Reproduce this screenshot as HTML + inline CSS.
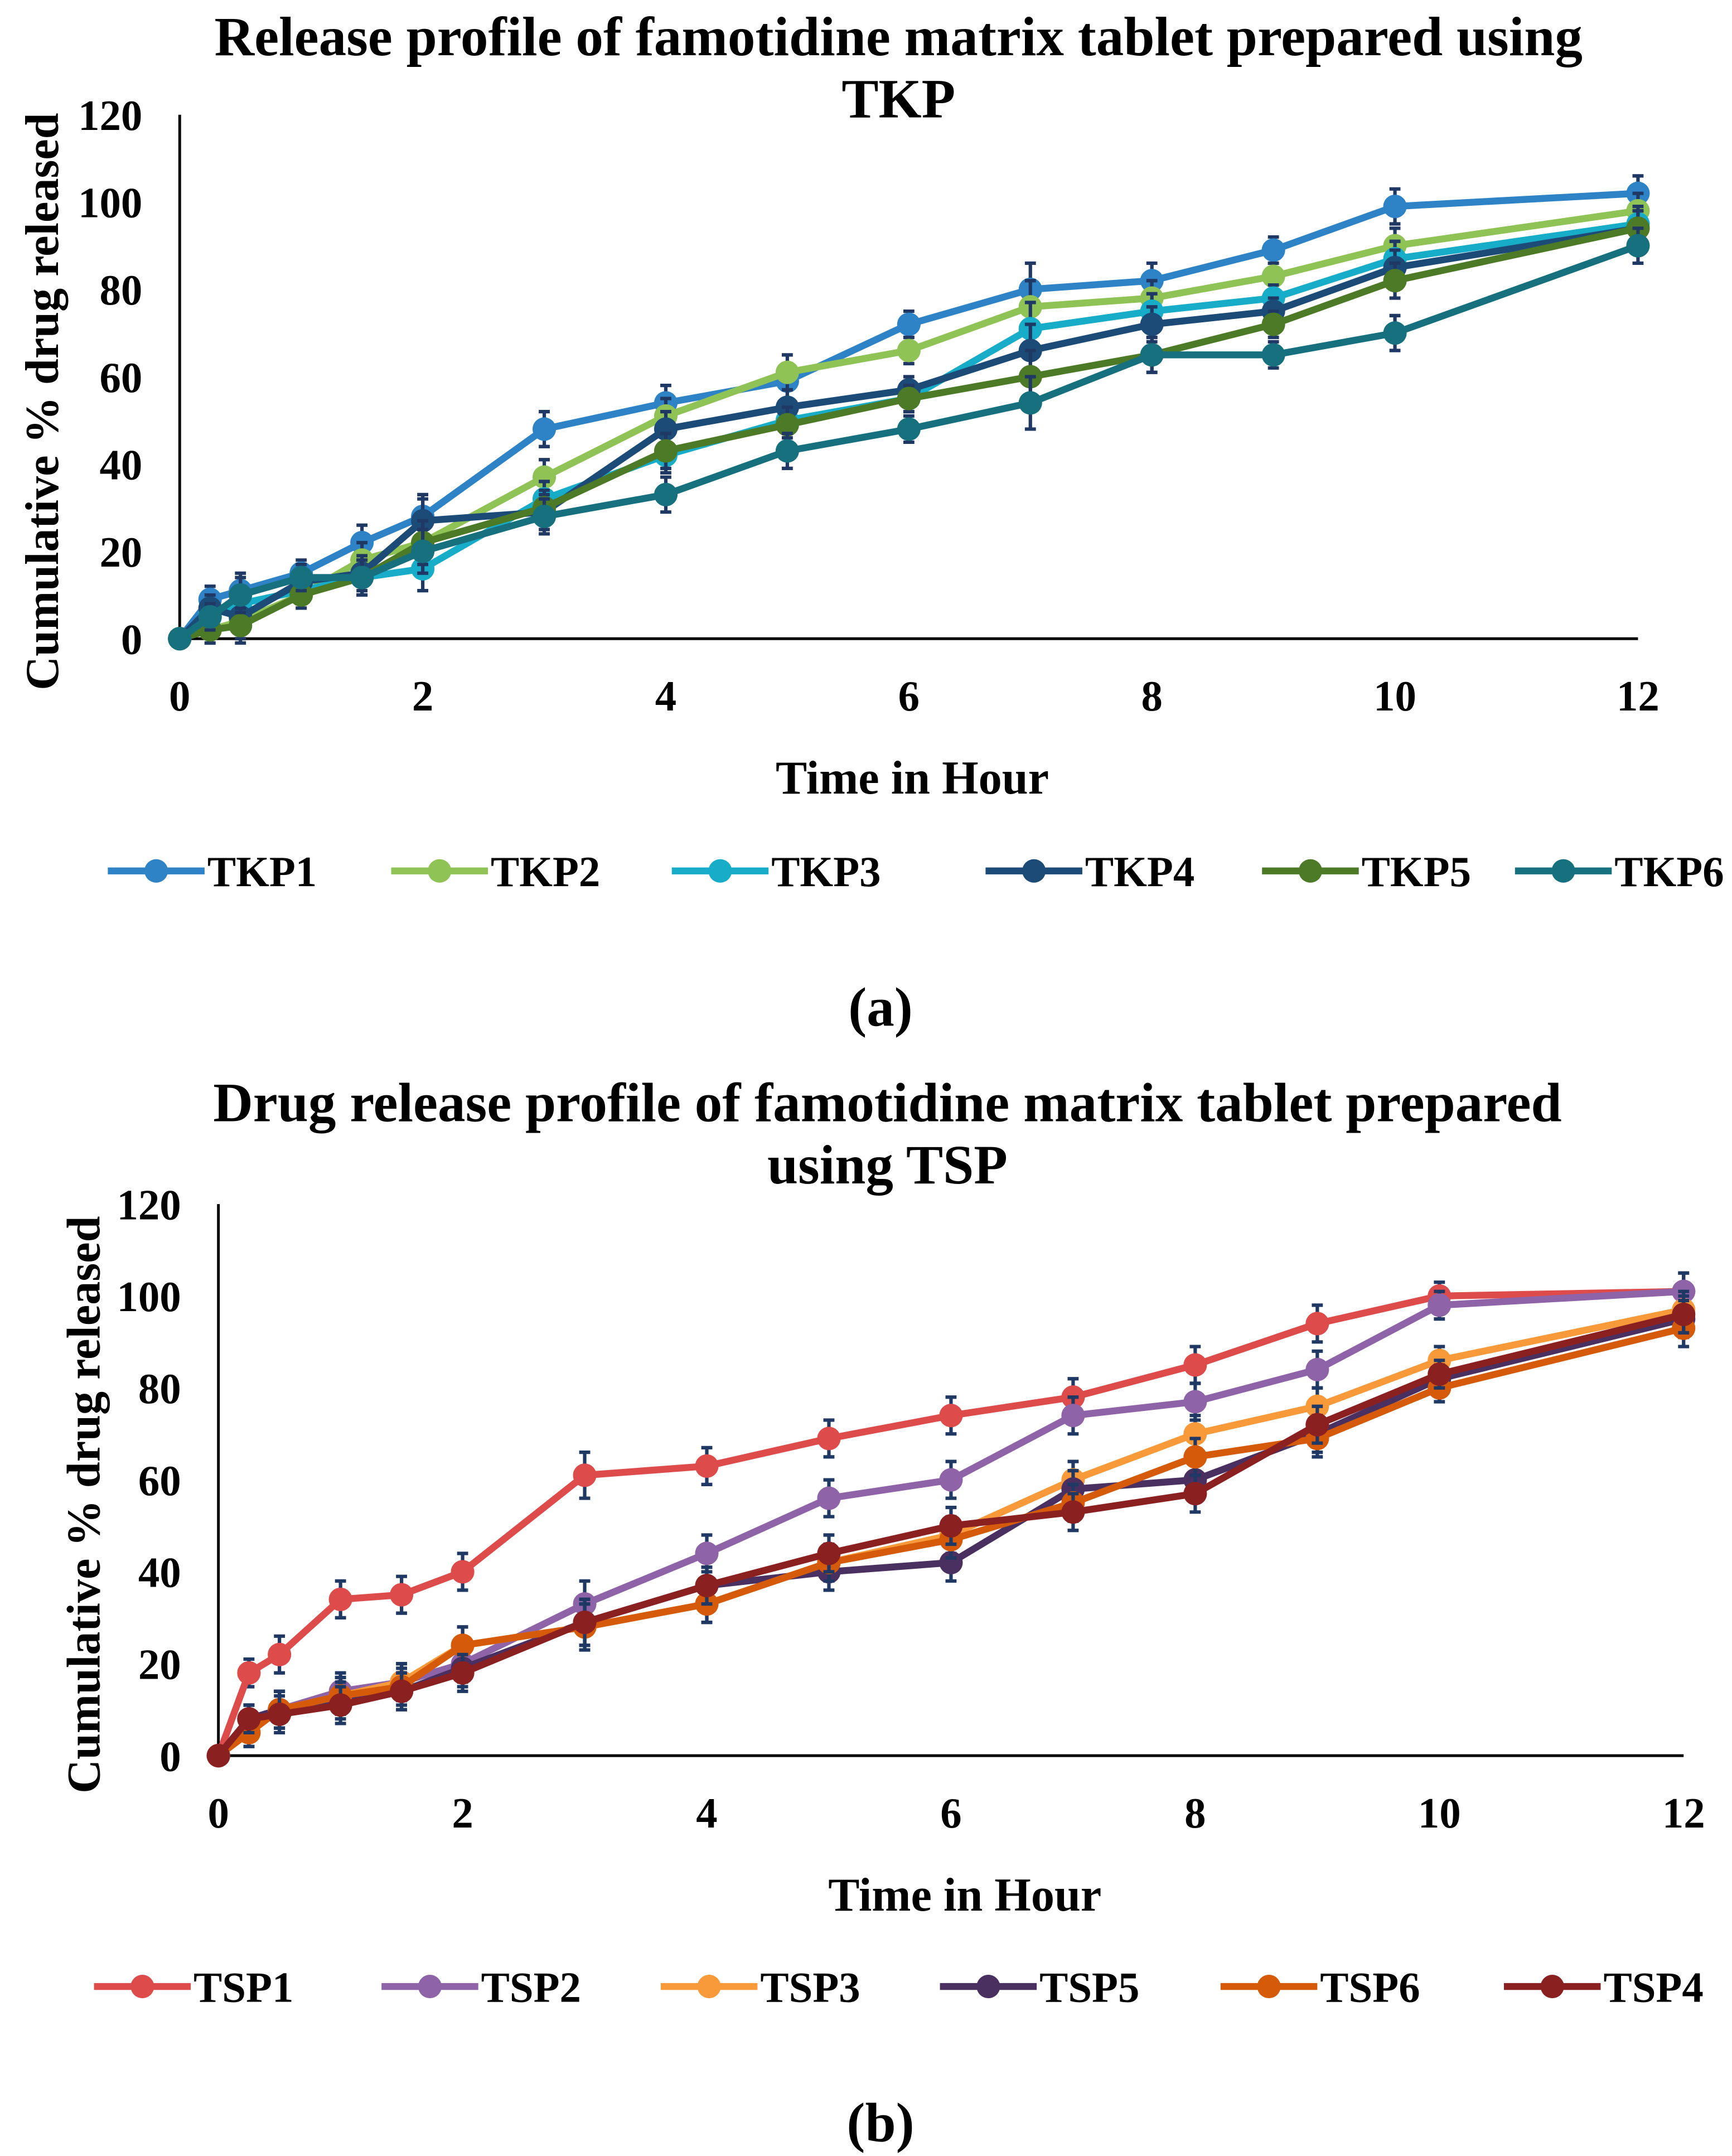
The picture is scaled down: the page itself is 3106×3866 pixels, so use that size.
<!DOCTYPE html>
<html><head><meta charset="utf-8"><style>
html,body{margin:0;padding:0;background:#fff}
svg{display:block}
text{font-family:"Liberation Serif",serif;font-weight:bold;fill:#000}
</style></head><body>
<svg id="root" width="3106" height="3866" viewBox="0 0 1253 1559.6" xmlns="http://www.w3.org/2000/svg">
<rect width="1253" height="1560" fill="#fff"/>
<g id="ga"></g>
<g id="gb"></g>
</svg>
<script>
const times = [0,0.25,0.5,1,1.5,2,3,4,5,6,7,8,9,10,12];
const xTicks = [0,2,4,6,8,10,12];
const yTicks = [0,20,40,60,80,100,120];
const tkpNames = ["TKP1","TKP2","TKP3","TKP4","TKP5","TKP6"];
const tkp1 = [0,9,11,15,22,28,48,54,59,72,80,82,89,99,102];
const tkp2 = [0,2,4,10,18,22,37,51,61,66,76,78,83,90,98];
const tkp3 = [0,6,8,11,14,16,32,42,50,55,71,75,78,87,95];
const tkp4 = [0,7,5,13,15,27,29,48,53,57,66,72,75,85,94];
const tkp5 = [0,2,3,10,14,22,30,43,49,55,60,65,72,82,94];
const tkp6 = [0,5,10,14,14,20,28,33,43,48,54,65,65,70,90];
const tkpErr = [0,3,4,3,4,5,4,4,4,3,6,4,3,4,4];
const tspNames = ["TSP1","TSP2","TSP3","TSP5","TSP6","TSP4"];
const tsp1 = [0,18,22,34,35,40,61,63,69,74,78,85,94,100,101];
const tsp2 = [0,8,10,14,16,20,33,44,56,60,74,77,84,98,101];
const tsp3 = [0,5,10,13,16,24,28,33,42,48,60,70,76,86,97];
const tsp5 = [0,8,10,12,14,19,29,37,40,42,58,60,70,82,95];
const tsp6 = [0,5,10,13,15,24,28,33,42,47,55,65,69,80,93];
const tsp4 = [0,8,9,11,14,18,29,37,44,50,53,57,72,83,96];
const tspErr = [0,3,4,4,4,4,5,4,4,4,4,4,4,3,4];

const NS="http://www.w3.org/2000/svg";
function mk(p,tag,attrs,txt){const e=document.createElementNS(NS,tag);for(const k in attrs)e.setAttribute(k,attrs[k]);if(txt!==undefined)e.textContent=txt;p.appendChild(e);return e;}

function chart(g,cfg){
  const xs=v=>cfg.x0+(cfg.x1-cfg.x0)*v/12;
  const ys=v=>cfg.y0-(cfg.y0-cfg.y1)*v/120;
  cfg.title.forEach((t,i)=>{const e=mk(g,'text',{x:cfg.tx,y:cfg.ty+i*45,'text-anchor':'middle','font-size':40},t);
    
    });
  const ax=mk(g,'path',{d:`M${cfg.x0},${cfg.y1} V${cfg.y0} H${cfg.x1}`,stroke:'#000','stroke-width':2,fill:'none'});
  
  
  yTicks.forEach(v=>{const e=mk(g,'text',{x:cfg.x0-27,y:ys(v)+11,'text-anchor':'end','font-size':31},v);
    
    });
  xTicks.forEach(v=>{const e=mk(g,'text',{x:xs(v),y:cfg.y0+52,'text-anchor':'middle','font-size':31},v);
    
    });
  const yt=mk(g,'text',{transform:`translate(${cfg.ytx},${(cfg.y0+cfg.y1)/2+18}) rotate(-90)`,'text-anchor':'middle','font-size':34},'Cumulative % drug released');
  
  
  const xt=mk(g,'text',{x:cfg.xtx,y:cfg.y0+112,'text-anchor':'middle','font-size':34},'Time in Hour');
  
  
  cfg.series.forEach((s,si)=>{
    const sg=mk(g,'g',{});
    
    
    times.forEach((t,i)=>{const x=xs(t),e=cfg.err[i];if(!e)return;
      const eb=mk(sg,'path',{d:`M${x},${ys(s[i]-e)}V${ys(s[i]+e)}M${x-4},${ys(s[i]-e)}h8M${x-4},${ys(s[i]+e)}h8`,stroke:'#1f3864','stroke-width':2.5,fill:'none'});
      
      });
    const pts=times.map((t,i)=>xs(t)+','+ys(s[i])).join(' ');
    const pl=mk(sg,'polyline',{points:pts,fill:'none',stroke:cfg.colors[si],'stroke-width':5,'stroke-linejoin':'round'});
    
    
    times.forEach((t,i)=>{const c=mk(sg,'circle',{cx:xs(t),cy:ys(s[i]),r:8.5,fill:cfg.colors[si]});
      
      });
  });
  cfg.names.forEach((n,i)=>{const lg=mk(g,'g',{});
    
    
    const lx=cfg.legX[i];
    mk(lg,'line',{x1:lx-72,x2:lx-2,y1:cfg.legY,y2:cfg.legY,stroke:cfg.colors[i],'stroke-width':5});
    mk(lg,'circle',{cx:lx-37,cy:cfg.legY,r:8.5,fill:cfg.colors[i]});
    mk(lg,'text',{x:lx,y:cfg.legY+11,'font-size':31},n);});
  const lab=mk(g,'text',{x:637,y:cfg.labY,'text-anchor':'middle','font-size':40},cfg.label);
  
  
}
chart(document.getElementById('ga'),{x0:130,x1:1185,y0:462,y1:83,tx:650,ty:40,ytx:42,xtx:660,
  title:["Release profile of famotidine matrix tablet prepared using","TKP"],
  series:[tkp1,tkp2,tkp3,tkp4,tkp5,tkp6],err:tkpErr,names:tkpNames,
  colors:["#2e83c6","#8fc356","#17acc8","#1c4b78","#4d7a26","#16707e"],
  legX:[150,355,558,785,985,1168],legY:630,labY:742,label:"(a)"});
chart(document.getElementById('gb'),{x0:158,x1:1218,y0:1270,y1:871,tx:642,ty:811,ytx:72,xtx:698,
  title:["Drug release profile of famotidine matrix tablet prepared","using TSP"],
  series:[tsp1,tsp2,tsp3,tsp5,tsp6,tsp4],err:tspErr,names:tspNames,
  colors:["#de4b4b","#8e63a8","#f89a3a","#4a3060","#d55a0a","#8b2020"],
  legX:[140,348,550,752,955,1160],legY:1437,labY:1549,label:"(b)"});
</script>
</body></html>
